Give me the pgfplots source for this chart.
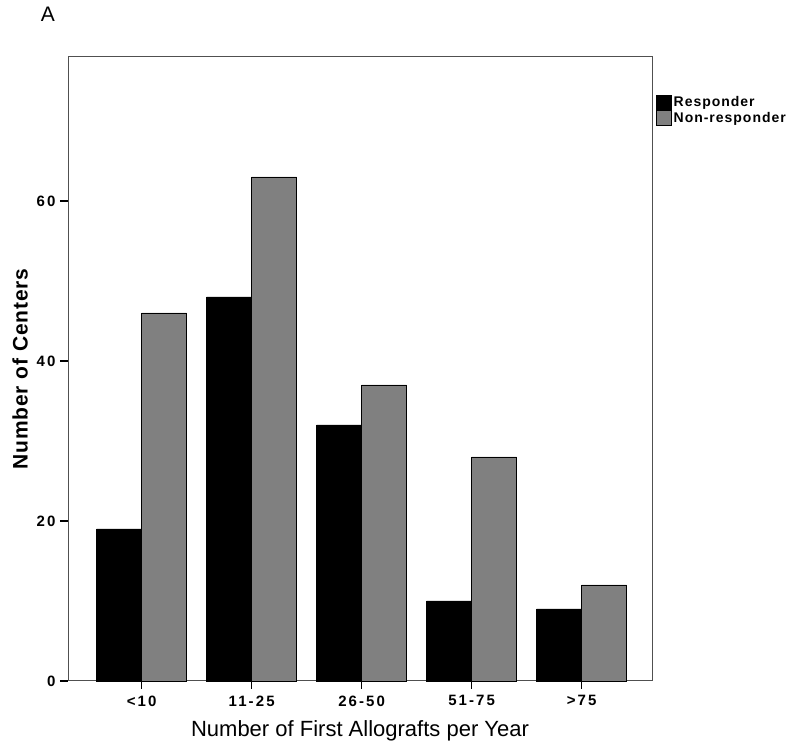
\documentclass[border=0pt]{standalone}
\usepackage{pgfplots}
\pgfplotsset{compat=1.18}
\usepackage{fontspec}
\setmainfont{Liberation Sans}
\definecolor{nrgray}{RGB}{128,128,128}
\definecolor{axgray}{RGB}{80,80,80}
\begin{document}
\begin{tikzpicture}
\useasboundingbox (0pt,0pt) rectangle (792pt,749pt);
\node[font=\fontsize{21}{21}\selectfont] at (48pt,735pt) {A};
\begin{axis}[
  at={(68pt,68pt)}, anchor=south west,
  scale only axis, width=584pt, height=624pt,
  xmin=-0.67, xmax=4.64, ymin=0, ymax=78,
  clip=false,
  ybar=0pt, bar width=45pt,
  xtick={0,1,2,3,4},
  xticklabels={<10,11-25,26-50,51-75,>75},
  ytick={0,20,40,60},
  xtick align=outside, ytick align=outside,
  xtick pos=bottom, ytick pos=left,
  major tick length=8pt,
  axis line style={axgray, line width=1pt},
  xtick style={draw=black, line width=1.5pt},
  ytick style={draw=black, line width=1.2pt},
  /pgf/number format/assume math mode=true,
  ticklabel style={font=\bfseries\fontsize{15}{15}\selectfont\addfontfeature{LetterSpace=14}},
  xticklabel style={yshift=-3pt},
  yticklabel style={xshift=-1pt},
  xlabel={Number of First Allografts per Year},
  ylabel={\bfseries\addfontfeature{LetterSpace=4}Number of Centers},
  xlabel style={font=\fontsize{22}{22}\selectfont, yshift=-8pt},
  ylabel style={font=\fontsize{21}{21}\selectfont, yshift=2pt},
  legend style={at={(1.007,0.94)}, anchor=north west, draw=none, fill=none,
    font=\bfseries\fontsize{14}{15}\selectfont\addfontfeature{LetterSpace=7}, row sep=0pt, inner sep=0pt,
    /tikz/every even column/.append style={column sep=3pt}},
  legend cell align=left,
  legend image code/.code={\draw[#1] (0pt,-7.5pt) rectangle (15pt,7.5pt);},
]
\addplot[draw=black, fill=black] coordinates {(0,19) (1,48) (2,32) (3,10) (4,9)};
\addplot[draw=black, fill=nrgray] coordinates {(0,46) (1,63) (2,37) (3,28) (4,12)};
\legend{Responder,Non-responder}
\pgfplotsinvokeforeach{0,1,2,3,4}{
  \draw[black, line width=1.5pt] (axis cs:#1,0) -- ([yshift=-8pt]axis cs:#1,0);
}
\end{axis}
\end{tikzpicture}
\end{document}
